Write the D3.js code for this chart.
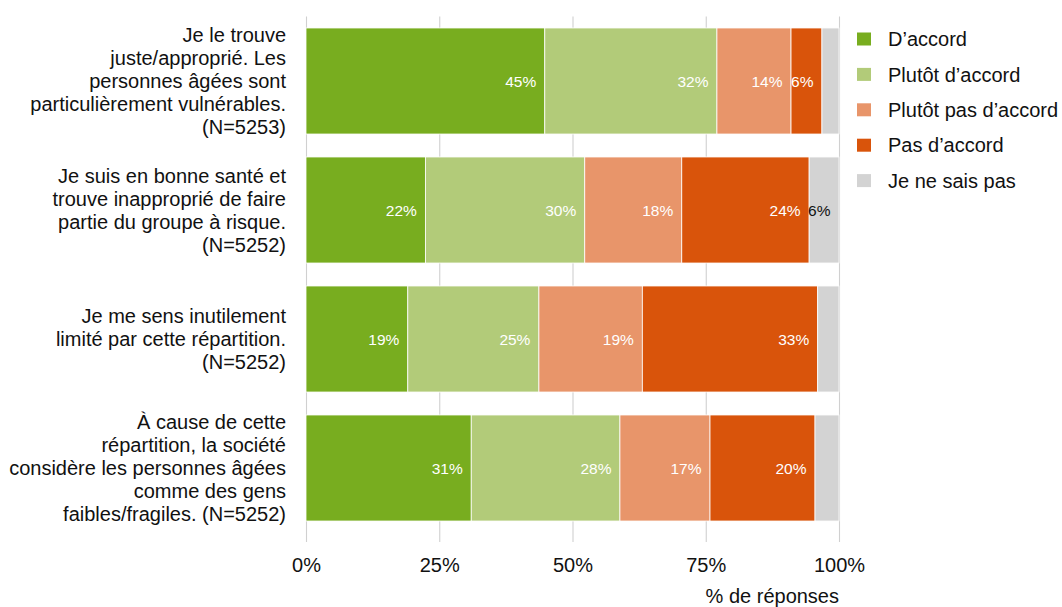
<!DOCTYPE html>
<html>
<head>
<meta charset="utf-8">
<script src="https://cdn.jsdelivr.net/npm/d3@7"></script>
<style>
  html, body { margin: 0; padding: 0; background: #fff; }
  svg { display: block; font-family: "Liberation Sans", Arial, sans-serif; }
</style>
</head>
<body>
<svg id="chart" width="1062" height="607"></svg>
<script>
// ---- Data ----
const categories = [
  "Je le trouve\njuste/approprié. Les\npersonnes âgées sont\nparticulièrement vulnérables.\n(N=5253)",
  "Je suis en bonne santé et\ntrouve inapproprié de faire\npartie du groupe à risque.\n(N=5252)",
  "Je me sens inutilement\nlimité par cette répartition.\n(N=5252)",
  "À cause de cette\nrépartition, la société\nconsidère les personnes âgées\ncomme des gens\nfaibles/fragiles. (N=5252)"
];
const seriesNames = ["D’accord", "Plutôt d’accord", "Plutôt pas d’accord", "Pas d’accord", "Je ne sais pas"];
const dAccord        = [44.8, 22.4, 19.1, 31.0];
const plutotDAccord  = [32.3, 29.9, 24.6, 27.9];
const plutotPas      = [13.9, 18.2, 19.4, 16.9];
const pasDAccord     = [5.8, 23.9, 32.9, 19.7];
const neSaisPas      = [3.2, 5.6, 4.0, 4.5];
const xTicks = [0, 25, 50, 75, 100];
const xTickLabels = ["0%", "25%", "50%", "75%", "100%"];
const xTitle = "% de réponses";
const colors = ["#78ad1f", "#b2cb79", "#e8956a", "#d9540b", "#d3d3d3"];

const seriesValues = [dAccord, plutotDAccord, plutotPas, pasDAccord, neSaisPas];

// table for stack
const table = categories.map((c, i) => {
  const row = { cat: c };
  seriesNames.forEach((s, j) => row[s] = seriesValues[j][i]);
  return row;
});

const FS = "20px";
const TXT = "#111111";

const svg = d3.select("#chart");
const x = d3.scaleLinear().domain([0, 100]).range([306, 839]);
const y = d3.scaleBand().domain(categories).range([16.5, 532.5])
  .paddingInner(0.178).paddingOuter(0.089);
const color = d3.scaleOrdinal().domain(seriesNames).range(colors);

// gridlines + ticks
const xAxis = d3.axisBottom(x).tickValues(xTicks)
  .tickFormat((d, i) => xTickLabels[i])
  .tickSize(-(542 - 16.5)).tickPadding(16);
const gx = svg.append("g").attr("transform", "translate(0,542)").call(xAxis);
gx.select(".domain").remove();
gx.selectAll(".tick line").attr("stroke", "#d0d0d0").attr("stroke-width", 1.1);
gx.selectAll(".tick text").attr("fill", TXT).style("font-size", FS)
  .style("font-family", "Liberation Sans, Arial, sans-serif");

svg.append("text").attr("x", 839).attr("y", 603).attr("text-anchor", "end")
  .attr("fill", TXT).style("font-size", FS).text(xTitle);

// stacked bars
const stack = d3.stack().keys(seriesNames);
const stacked = stack(table);

const layers = svg.append("g").selectAll("g").data(stacked).join("g")
  .attr("fill", d => color(d.key));
layers.selectAll("rect").data(d => d.map(p => ({ p, key: d.key }))).join("rect")
  .attr("x", d => x(d.p[0]))
  .attr("width", d => x(d.p[1]) - x(d.p[0]))
  .attr("y", d => y(d.p.data.cat))
  .attr("height", y.bandwidth())
  .attr("stroke", "#ffffff").attr("stroke-width", 0.8);

// value labels
const labelsG = svg.append("g");
stacked.forEach(layer => {
  layer.forEach(p => {
    const v = p[1] - p[0];
    if (v < 5) return;
    labelsG.append("text")
      .attr("x", x(p[1]) - 8.5)
      .attr("y", y(p.data.cat) + y.bandwidth() / 2)
      .attr("dy", "0.36em")
      .attr("text-anchor", "end")
      .attr("fill", layer.key === "Je ne sais pas" ? "#111" : "#ffffff")
      .style("font-size", "15.5px")
      .text(Math.round(v) + "%");
  });
});

// y labels
const lineH = 23;
categories.forEach(c => {
  const lines = c.split("\n");
  const cy = y(c) + y.bandwidth() / 2;
  const t = svg.append("text").attr("text-anchor", "end").attr("fill", TXT)
    .style("font-size", FS);
  lines.forEach((ln, k) => {
    t.append("tspan").attr("x", 286)
      .attr("y", cy + (k - (lines.length - 1) / 2) * lineH)
      .attr("dy", "0.36em").text(ln);
  });
});

// legend
const legend = svg.append("g");
seriesNames.forEach((s, i) => {
  const ly = 39 + i * 35.4;
  legend.append("rect").attr("x", 857).attr("y", ly - 6.5).attr("width", 14).attr("height", 13)
    .attr("fill", color(s));
  legend.append("text").attr("x", 888).attr("y", ly).attr("dy", "0.36em")
    .attr("fill", TXT).style("font-size", FS).text(s);
});
</script>
</body>
</html>
